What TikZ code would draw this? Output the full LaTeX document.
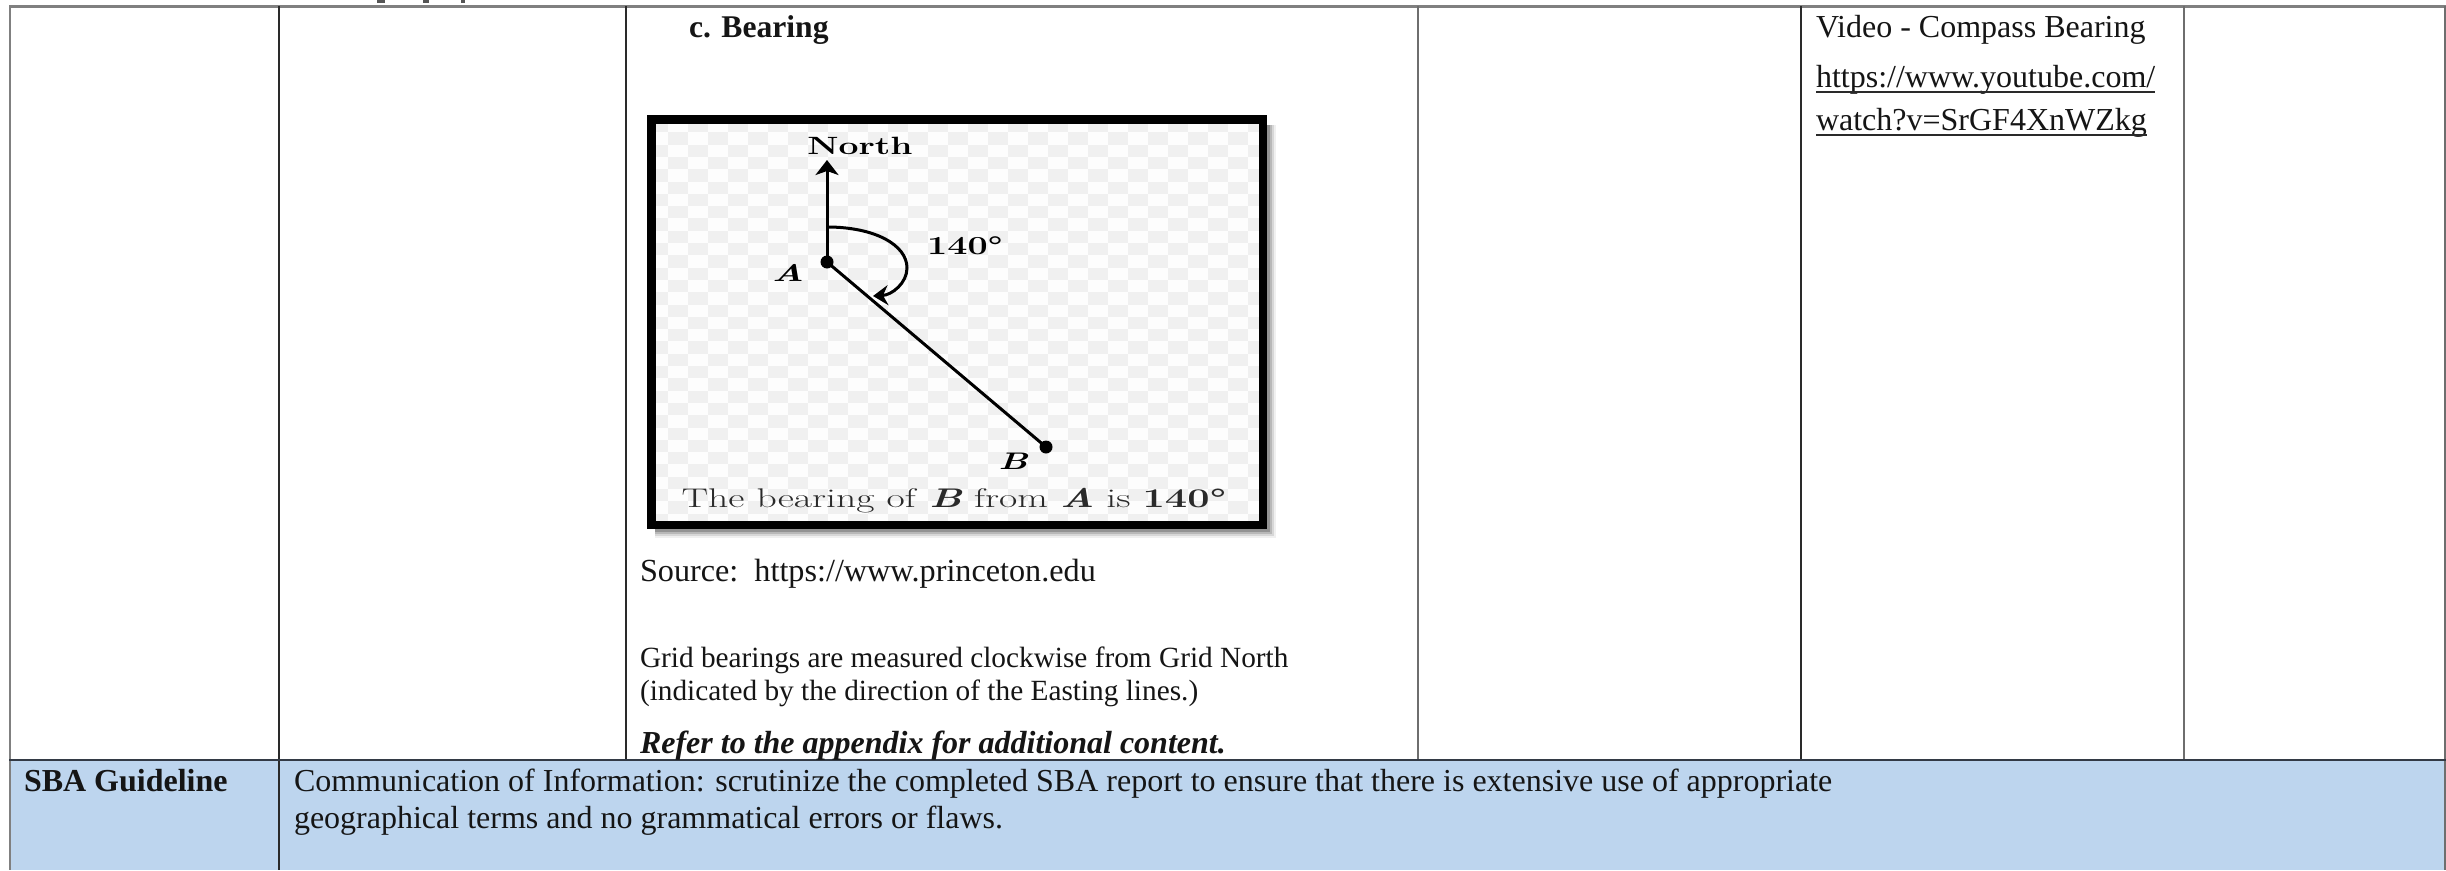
\documentclass[tikz,border=0pt]{standalone}
\usepackage{fontspec}
\usetikzlibrary{arrows.meta}
\newfontfamily\tnr{Liberation Serif}
\definecolor{sbablue}{HTML}{BDD5EE}
\definecolor{outerline}{HTML}{808080}
\definecolor{darkline}{HTML}{2A2A2A}
\definecolor{midline}{HTML}{6E6E6E}
\definecolor{rowline}{HTML}{333A45}
\definecolor{checkcell}{HTML}{F0F0F0}
\definecolor{checkbg}{HTML}{FDFDFD}
\definecolor{inktext}{HTML}{151515}
\definecolor{captiontext}{HTML}{2A2A2A}
\definecolor{fragment}{HTML}{555555}
\tikzset{
  txt/.style={anchor=base west,inner sep=0pt,outer sep=0pt,text=inktext,font=\tnr\fontsize{#1}{#1}\selectfont},
  figtxt/.style={anchor=center,inner sep=0pt,outer sep=0pt,text=black},
  rowrule/.style={line width=2.5pt,draw=rowline},
  topborder/.style={line width=3pt,draw=outerline},
  sideborder/.style={line width=2.5pt,draw=outerline},
  colrule/.style={line width=1.5pt,draw=darkline},
  colrulemid/.style={line width=1.6pt,draw=midline},
  figline/.style={line width=3pt,draw=black},
  dot/.style={circle,fill=black,inner sep=0pt,minimum size=13pt},
  linkline/.style={line width=2pt,draw=captiontext},
}
\begin{document}
\begin{tikzpicture}[x=1pt,y=-1pt]
\useasboundingbox (0,0) rectangle (2446,870);
\fill[white] (0,0) rectangle (2446,870);
% SBA row
\fill[sbablue] (10,761) rectangle (2445,870);
% clipped descenders of the row above
\fill[fragment] (377,0) rectangle (385,2.5);
\fill[fragment] (423,0) rectangle (429,2.5);
\fill[fragment] (461,0) rectangle (465,2.5);
% table rules
\draw[topborder] (9,6) -- (2446,6);
\draw[sideborder] (10,6) -- (10,870);
\draw[colrule] (279,6) -- (279,870);
\draw[colrule] (626,6) -- (626,760);
\draw[colrulemid] (1418,6) -- (1418,760);
\draw[colrule] (1801,6) -- (1801,760);
\draw[colrulemid] (2184,6) -- (2184,760);
\draw[line width=1.5pt,draw=midline] (2445,6) -- (2445,870);
\draw[rowrule] (9,760) -- (2446,760);
% figure shadow
\foreach \s/\o in {9/0.06,7/0.10,5/0.14,3/0.20}{
  \fill[black,opacity=\o] (655,125) rectangle (1267+\s,529+\s);
}
% figure background
\fill[checkbg] (647,115) rectangle (1267,529);
\begin{scope}
  \clip (656,123) rectangle (1259,521);
  \foreach \i in {0,...,33}{
    \pgfmathsetmacro{\yy}{120+12.3*\i}
    \pgfmathsetmacro{\xs}{648+20*mod(\i,2)}
    \foreach \j in {0,...,15}{
      \fill[checkcell] ({\xs+40*\j},\yy) rectangle ({\xs+40*\j+20},{\yy+12.3});
    }
  }
\end{scope}
\draw[line width=8.5pt,draw=black] (651.5,119.5) rectangle (1263,525);
% figure content
\node[dot] (A) at (827,262) {};
\node[dot] (B) at (1046,447) {};
\coordinate (Ntip) at (827,160);
\coordinate (arcstart) at (827,227);
\coordinate (arcend) at (873,296);
\draw[figline,-{Stealth[length=15pt,width=23pt,inset=4pt]}] (A.center) -- (Ntip);
\draw[figline] (A.center) -- (B.center);
\draw[figline,-{Stealth[length=15pt,width=20pt,inset=5pt]}] (arcstart) .. controls (875,227) and (907,245) .. (907,268) .. controls (907,283) and (892,295) .. (arcend);
\node[figtxt,font=\bfseries\fontsize{25}{25}\selectfont] (north) at (860,146) {\scalebox{1.42}[1]{North}};
\node[figtxt,font=\bfseries\fontsize{26}{26}\selectfont] (ang) at (965,246) {\scalebox{1.38}[1]{140°}};
\node[figtxt,font=\bfseries\itshape\fontsize{24}{24}\selectfont] (la) at (788,273) {\scalebox{1.55}[1]{A}};
\node[figtxt,font=\bfseries\itshape\fontsize{24}{24}\selectfont] (lb) at (1013,461) {\scalebox{1.5}[1]{B}};
\node[figtxt,text=captiontext,font=\fontsize{27}{27}\selectfont] (cap) at (954,501) {\scalebox{1.47}[1]{The bearing of \textbf{\textit{B}} from \textbf{\textit{A}} is \textbf{140°}}};
% cell text
\node[txt=32,font=\tnr\bfseries\fontsize{31.6}{32}\selectfont] (cb) at (689,37) {c. Bearing};
\node[txt=32] (vid) at (1816,37) {Video - Compass Bearing};
\node[txt=32] (l1) at (1816,87) {https://www.youtube.com/};
\node[txt=32] (l2) at (1816,130) {watch?v=SrGF4XnWZkg};
\draw[linkline] ([yshift=-5pt]l1.base west) -- ([yshift=-5pt]l1.base east);
\draw[linkline] ([yshift=-5pt]l2.base west) -- ([yshift=-5pt]l2.base east);
\node[txt=32.2] (src) at (640,581) {Source:\ \ https://www.princeton.edu};
\node[txt=29.3] (g1) at (640,667) {Grid bearings are measured clockwise from Grid North};
\node[txt=29.3] (g2) at (640,700) {(indicated by the direction of the Easting lines.)};
\node[txt=32,font=\tnr\bfseries\itshape\fontsize{32}{32}\selectfont] (ref) at (640,753) {Refer to the appendix for additional content.};
\node[txt=32,font=\tnr\bfseries\fontsize{32}{32}\selectfont] (sba) at (24,791) {SBA Guideline};
\node[txt=32] (c1) at (294,791) {Communication of Information: scrutinize the completed SBA report to ensure that there is extensive use of appropriate};
\node[txt=32] (c2) at (294,828) {geographical terms and no grammatical errors or flaws.};
\end{tikzpicture}
\end{document}
